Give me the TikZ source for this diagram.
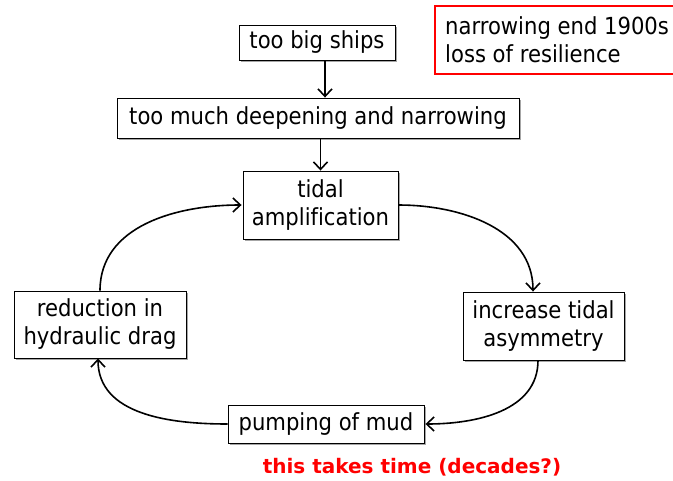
\documentclass[tikz,border=0pt]{standalone}
\usepackage{fontspec}
\setmainfont[Ligatures=NoCommon]{DejaVu Sans Condensed}
\newfontfamily\notefont{DejaVu Sans}
\usetikzlibrary{arrows.meta,calc}
\definecolor{noteRed}{RGB}{255,0,0}
\tikzset{
  txt/.style={font=\fontsize{23.5}{28}\selectfont},
  box/.style={draw=black, line width=0.9pt, fill=white, align=center, inner sep=0pt, txt},
  flow/.style={line width=1.6pt, -{Straight Barb[length=7.5pt,width=14pt,line width=1.6pt]}},
  shadowbox/.style={fill=black!35, draw=none}
}
\begin{document}
\begin{tikzpicture}[x=1pt,y=-1pt]
\useasboundingbox (0,0) rectangle (673,480);
% red note box (clipped at right edge)
\begin{scope}
\clip (0,0) rectangle (673,480);
\draw[draw=noteRed, line width=1.3pt] (435,6) rectangle (690,74);
\end{scope}
\node[anchor=west, align=left, inner sep=0pt, txt] (note) at (445,40)
  {narrowing end 1900s\\loss of resilience};

% shadows
\foreach \cx/\cy/\w/\h in {317/42.5/156/35, 318/118/402/40, 320.5/205/155/68, 100/324.5/172/67, 543.5/326/161/68, 326/424/196/38}{
  \fill[shadowbox] (\cx-\w/2+1.5,\cy-\h/2+1.5) rectangle (\cx+\w/2+1.5,\cy+\h/2+1.5);
}

\node[box, minimum width=156pt, minimum height=35pt] (ships) at (317,42.5) {too big ships};
\node[box, minimum width=402pt, minimum height=40pt] (deep) at (318,118) {too much deepening and narrowing};
\node[box, minimum width=155pt, minimum height=68pt] (tidal) at (320.5,205) {tidal\\amplification};
\node[box, minimum width=172pt, minimum height=67pt] (reduc) at (100,324.5) {reduction in\\hydraulic drag};
\node[box, minimum width=161pt, minimum height=68pt] (asym) at (543.5,326) {increase tidal\\asymmetry};
\node[box, minimum width=196pt, minimum height=38pt] (pump) at (326,424) {pumping of mud};

\node[text=noteRed, font=\notefont\bfseries\fontsize{20}{24}\selectfont, inner sep=0pt] (time) at (412,467) {this takes time (decades?)};

\draw[flow] ([xshift=8pt]ships.south) -- ([xshift=8pt]ships.south |- deep.north);
\draw[flow] (deep.south -| tidal.north) -- (tidal.north);
\draw[flow] (tidal.east) to[out=0,in=90,looseness=1.0] ([xshift=-10.5pt]asym.north);
\draw[flow] ([xshift=-5.5pt]asym.south) to[out=270,in=0,looseness=1.0] ([xshift=1pt]pump.east);
\draw[flow] (pump.west) to[out=180,in=270,looseness=1.0] ([xshift=-2pt]reduc.south);
\draw[flow] (reduc.north) to[out=90,in=180,looseness=1.0] ([xshift=-1pt]tidal.west);
\end{tikzpicture}
\end{document}
